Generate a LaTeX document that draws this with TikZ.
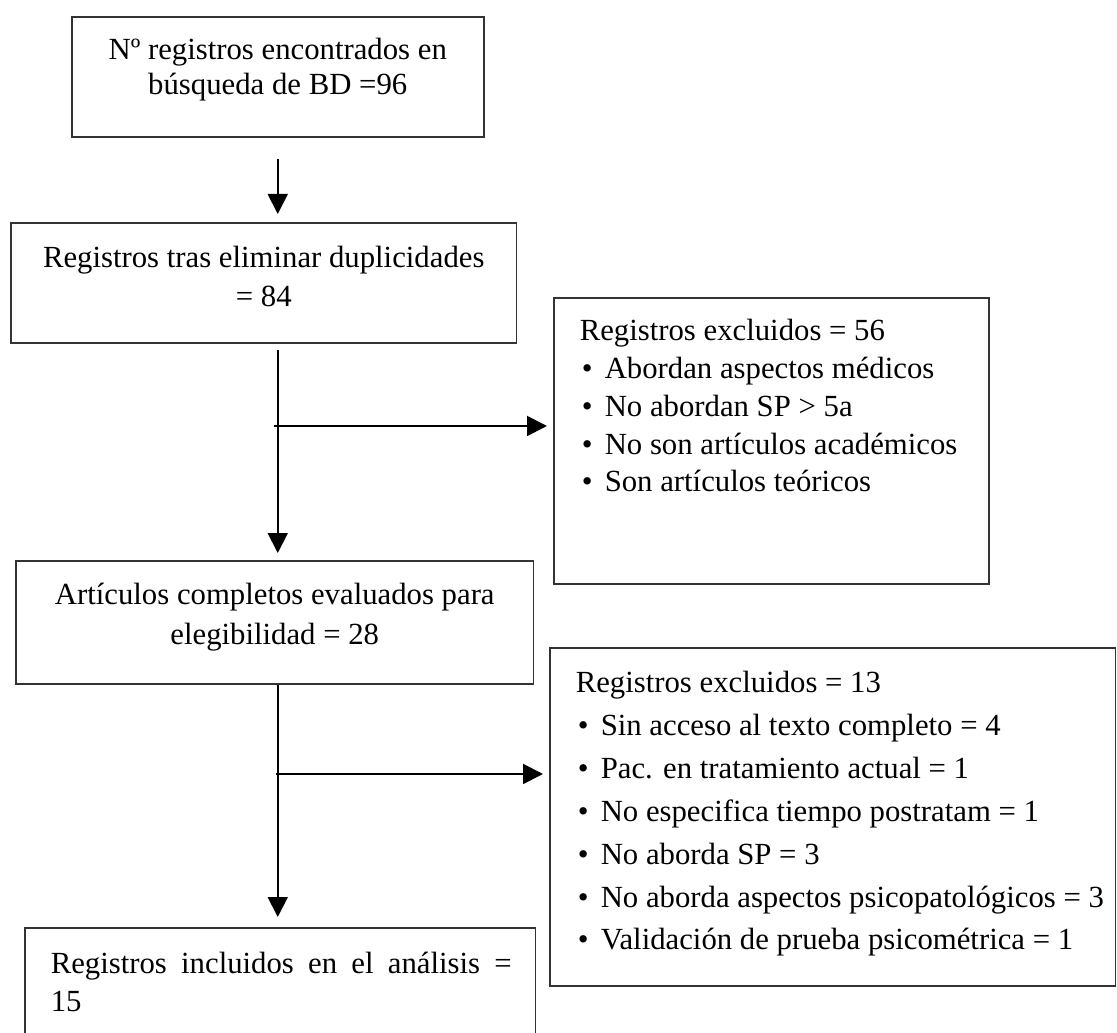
\documentclass[tikz,border=0pt]{standalone}
\usepackage{fontspec}
\setmainfont{Liberation Serif}
\usetikzlibrary{arrows.meta}

\newcommand{\vineta}{\makebox[0.5cm][l]{\hspace{0.04cm}\textbullet}}

\begin{document}
\begin{tikzpicture}[x=0.02cm,y=-0.02cm,
  caja/.style={draw=black!80, line width=0.9pt, anchor=north west, inner sep=0pt},
  flecha/.style={line width=1.1pt, -{Triangle[width=0.4cm,length=0.4cm]}}]
  \clip (0,0) rectangle (1117,1033);
  \node[caja] (busq) at (71,16) {\parbox[c][2.40cm][t]{8.24cm}{\fontsize{17.5pt}{19.9pt}\selectfont\centering
    \rule{0pt}{0.86cm}Nº registros encontrados en\\ búsqueda de BD =96}};
  \node[caja] (dupl) at (10,222) {\parbox[c][2.40cm][t]{10.12cm}{\fontsize{17.5pt}{22.2pt}\selectfont\centering
    \rule{0pt}{0.90cm}Registros tras eliminar duplicidades\\ = 84}};
  \node[caja] (eleg) at (15,560) {\parbox[c][2.46cm][t]{10.36cm}{\fontsize{17.5pt}{22.7pt}\selectfont\centering
    \rule{0pt}{0.88cm}Artículos completos evaluados para\\ elegibilidad = 28}};
  \node[caja] (excl1) at (553,297) {\parbox[c][5.72cm][t]{8.70cm}{\fontsize{17.5pt}{21.5pt}\selectfont\raggedright\setlength{\leftskip}{0.52cm}
    \rule{0pt}{0.86cm}Registros excluidos = 56\\
    \vineta Abordan aspectos médicos\\
    \vineta No abordan SP > 5a\\
    \vineta No son artículos académicos\\
    \vineta Son artículos teóricos}};
  \node[caja] (excl2) at (549,647) {\parbox[c][6.76cm][t]{11.32cm}{\fontsize{17.5pt}{24.4pt}\selectfont\raggedright\setlength{\leftskip}{0.52cm}
    \rule{0pt}{0.90cm}Registros excluidos = 13\\
    \vineta Sin acceso al texto completo = 4\\
    \vineta Pac. en tratamiento actual = 1\\
    \vineta No especifica tiempo postratam = 1\\
    \vineta No aborda SP = 3\\
    \vineta No aborda aspectos psicopatológicos = 3\\
    \vineta Validación de prueba psicométrica = 1}};
  \node[caja] (incl) at (24,927) {\parbox[c][2.40cm][t]{10.22cm}{\fontsize{17.5pt}{21.6pt}\selectfont\raggedright\setlength{\leftskip}{0.52cm}
    \rule{0pt}{0.92cm}\makebox[9.22cm][s]{Registros incluidos en el análisis =}\\ 15}};

  \draw[flecha, shorten <=0.42cm, shorten >=0.16cm] (busq.south) -- (busq.south |- dupl.north);
  \draw[flecha, shorten <=0.12cm, shorten >=0.14cm] (busq.south |- dupl.south) -- (busq.south |- eleg.north);
  \coordinate (rama1) at (274,426);
  \draw[flecha, shorten >=0.12cm] (rama1) -- (rama1 -| excl1.west);
  \draw[flecha, shorten >=0.2cm] (busq.south |- eleg.south) -- (busq.south |- incl.north);
  \coordinate (rama2) at (276,774);
  \draw[flecha, shorten >=0.12cm] (rama2) -- (rama2 -| excl2.west);
\end{tikzpicture}
\end{document}
